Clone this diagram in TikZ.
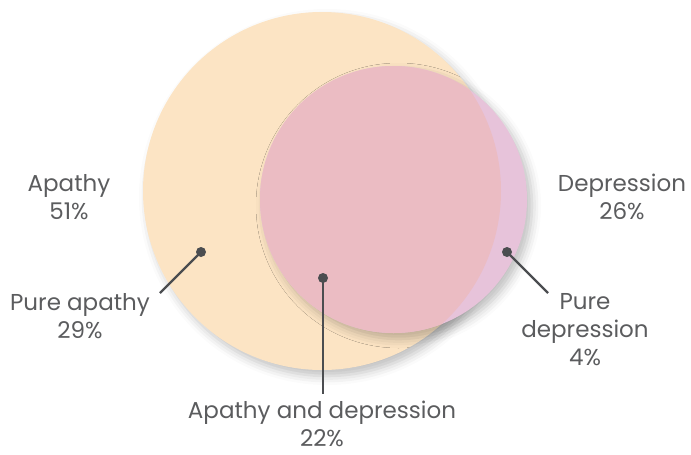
\documentclass[tikz,border=0pt]{standalone}
\usepackage{fontspec}
\setmainfont{Poppins}
\usetikzlibrary{shadows.blur}

\definecolor{apathyfill}{HTML}{FCE4C4}
\definecolor{bothfill}{HTML}{EBBCC3}
\definecolor{deprfill}{HTML}{E7C3DA}
\definecolor{labelgray}{HTML}{5B5C5E}
\definecolor{dotgray}{HTML}{4B4D50}

\tikzset{every picture/.style={line width=0.75pt}}
\tikzset{
  vlabel/.style={text=labelgray, font=\fontsize{23}{28}\selectfont, align=center, inner sep=0pt},
  vdot/.style={circle, fill=dotgray, minimum size=10pt, inner sep=0pt},
  vline/.style={draw=dotgray, line width=2.4pt},
  vshadow/.style={blur shadow={shadow xshift=5pt, shadow yshift=-6pt, shadow blur radius=9pt, shadow opacity=25}}
}

\begin{document}
\begin{tikzpicture}[x=1pt,y=1pt,yscale=-1,xscale=1]
	\useasboundingbox (0,0) rectangle (691,455);

	%Shape: Circle [apathy]
	\fill [apathyfill, vshadow] (322,191) circle (179);
	%Shape: Circle [depression]
	\fill [deprfill, vshadow] (393.5,199.5) circle (133.5);
	%Shape: Circle [overlap]
	\begin{scope}
		\clip (322,191) circle (179);
		\fill [bothfill] (393.5,199.5) circle (133.5);
	\end{scope}

	% Dots
	\node [vdot] (dotapathy) at (201,252) {};
	\node [vdot] (dotboth) at (323,278) {};
	\node [vdot] (dotdepr) at (507,252) {};

	% Text Node
	\node [vlabel] (apathy) at (69,197) {Apathy\\51\%};
	% Text Node
	\node [vlabel] (depression) at (622,197) {Depression\\26\%};
	% Text Node
	\node [vlabel] (pureapathy) at (80,316) {Pure apathy\\29\%};
	% Text Node
	\node [vlabel] (puredepr) at (585,330) {Pure\\depression\\4\%};
	% Text Node
	\node [vlabel] (both) at (322,424) {Apathy and depression\\22\%};

	%Straight Lines
	\coordinate (endapathy) at (160,293);
	\coordinate (endboth) at (323,394);
	\coordinate (enddepr) at (548,293);
	\draw [vline] (dotapathy.center) -- (endapathy);
	\draw [vline] (dotboth.center) -- (endboth);
	\draw [vline] (dotdepr.center) -- (enddepr);

\end{tikzpicture}
\end{document}
